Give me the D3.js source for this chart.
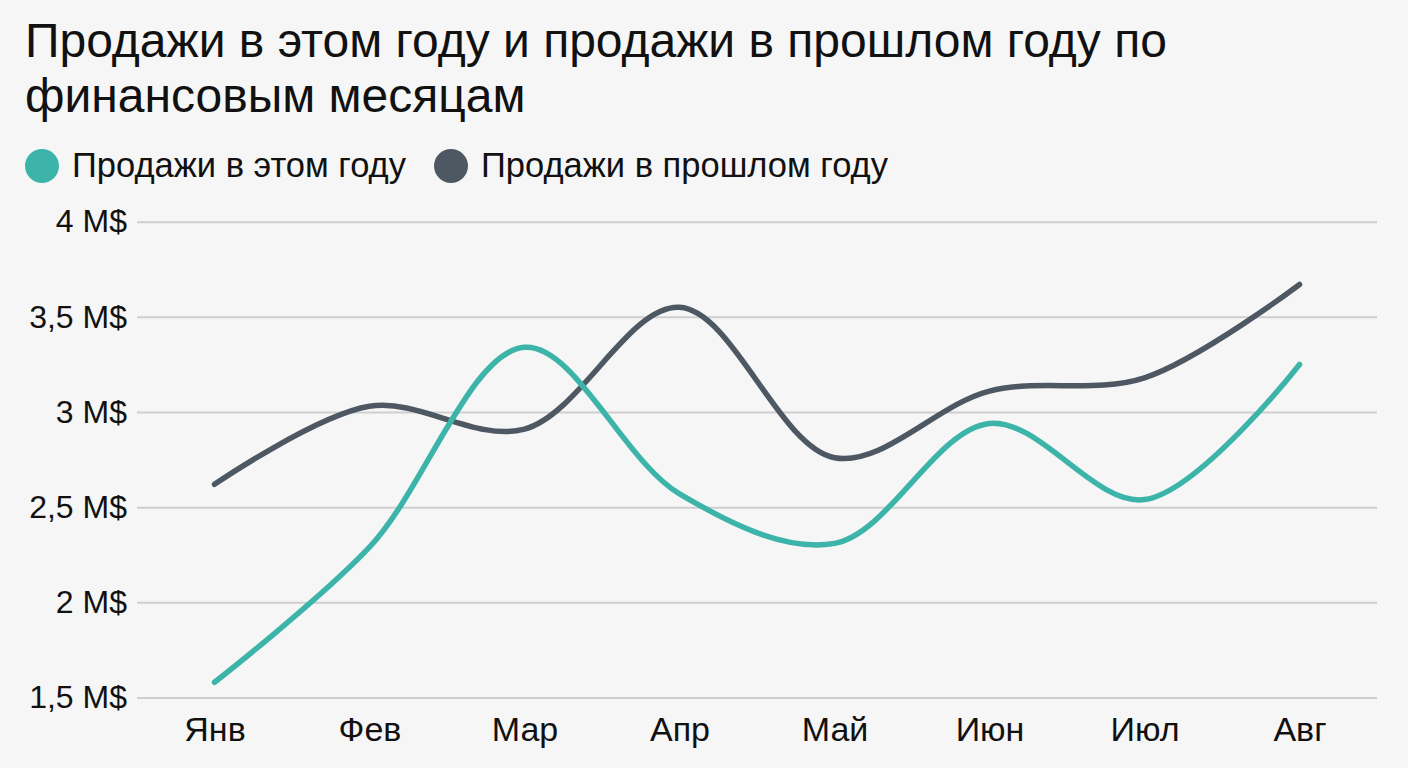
<!DOCTYPE html>
<html lang="ru">
<head>
<meta charset="UTF-8">
<title>Продажи по финансовым месяцам</title>
<script src="https://cdn.jsdelivr.net/npm/d3@7/dist/d3.min.js"></script>
<style>
  html, body { margin: 0; padding: 0; background: #f6f6f6; }
  svg { display: block; font-family: "Liberation Sans", Arial, sans-serif; }
</style>
</head>
<body>
<svg id="chart" width="1408" height="768"></svg>
<script>
  // data (millions of $)
  const months = ["Янв", "Фев", "Мар", "Апр", "Май", "Июн", "Июл", "Авг"];
  const thisYear = [1.58, 2.29, 3.34, 2.57, 2.31, 2.94, 2.54, 3.25];
  const lastYear = [2.62, 3.03, 2.91, 3.55, 2.76, 3.11, 3.18, 3.67];
  const yTicks = [1.5, 2, 2.5, 3, 3.5, 4];
  const seriesNames = ["Продажи в этом году", "Продажи в прошлом году"];
  const colors = ["#3cb4aa", "#4d5863"];

  const svg = d3.select("#chart");
  const plotLeft = 137, plotRight = 1377, plotTop = 221.7, plotBottom = 697.5;

  const x = d3.scalePoint().domain(months).range([plotLeft, plotRight]).padding(0.5);
  const y = d3.scaleLinear().domain([1.5, 4]).range([plotBottom, plotTop]);

  // title
  const title = svg.append("text")
      .attr("x", 25).attr("y", 57)
      .attr("font-size", 48).attr("fill", "#111");
  title.append("tspan").attr("x", 25).text("Продажи в этом году и продажи в прошлом году по");
  title.append("tspan").attr("x", 25).attr("dy", 55).text("финансовым месяцам");

  // legend
  const legendX = [42, 451];
  seriesNames.forEach((name, i) => {
    svg.append("circle")
        .attr("cx", legendX[i]).attr("cy", 166).attr("r", 17)
        .attr("fill", colors[i]);
    svg.append("text")
        .attr("x", legendX[i] + 30).attr("y", 177)
        .attr("font-size", 34.5).attr("fill", "#111")
        .text(name);
  });

  // gridlines + y labels
  const yAxis = d3.axisLeft(y)
      .tickValues(yTicks)
      .tickSize(-(plotRight - plotLeft))
      .tickPadding(10)
      .tickFormat(d => String(d).replace(".", ",") + " M$");
  const gy = svg.append("g").attr("transform", `translate(${plotLeft},0)`).call(yAxis);
  gy.select(".domain").remove();
  gy.selectAll(".tick line").attr("stroke", "#cfcfcf").attr("stroke-width", 2);
  gy.selectAll(".tick text").attr("font-size", 32).attr("fill", "#111")
      .attr("font-family", "Liberation Sans, Arial, sans-serif");

  // x labels
  const xAxis = d3.axisBottom(x).tickSize(0).tickPadding(0);
  const gx = svg.append("g").attr("transform", `translate(0,${plotBottom})`).call(xAxis);
  gx.select(".domain").remove();
  gx.selectAll(".tick text")
      .attr("dy", null).attr("y", 43)
      .attr("font-size", 34).attr("fill", "#111")
      .attr("font-family", "Liberation Sans, Arial, sans-serif");

  // lines
  const line = d3.line()
      .x((d, i) => x(months[i]))
      .y(d => y(d))
      .curve(d3.curveCatmullRom.alpha(0.5));

  [lastYear, thisYear].forEach((vals, k) => {
    svg.append("path")
        .datum(vals)
        .attr("d", line)
        .attr("fill", "none")
        .attr("stroke", colors[k === 0 ? 1 : 0])
        .attr("stroke-width", 5.5)
        .attr("stroke-linecap", "round")
        .attr("stroke-linejoin", "round");
  });
</script>
</body>
</html>
